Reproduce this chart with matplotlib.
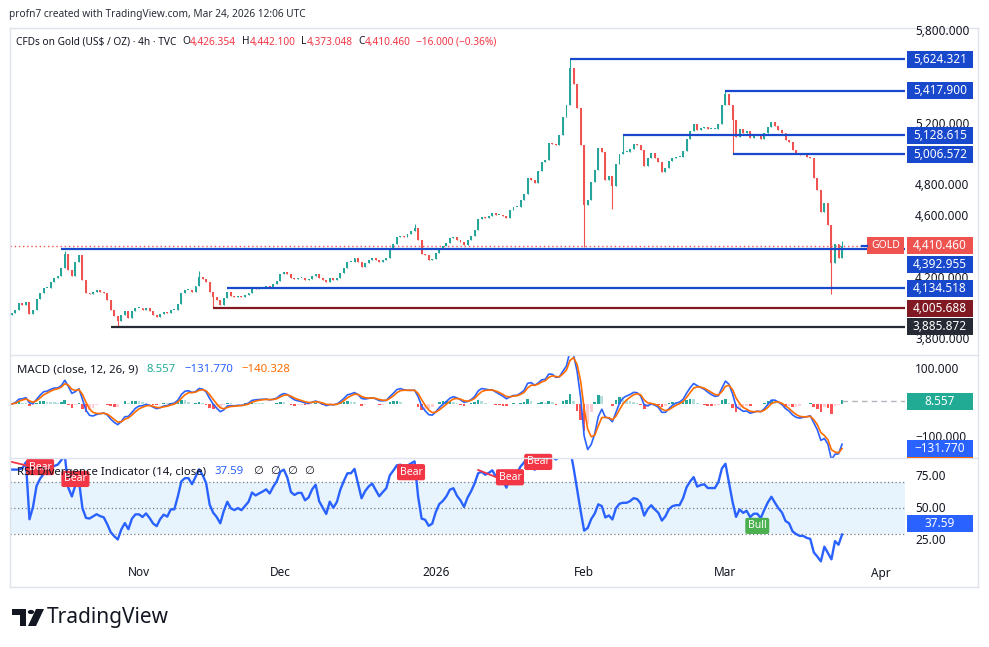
import numpy as np
import pandas as pd
import matplotlib
matplotlib.use("Agg")
import matplotlib.pyplot as plt
from matplotlib.patches import Rectangle, Circle, Polygon
from matplotlib.lines import Line2D

plt.rcParams['font.family'] = ['Noto Sans', 'DejaVu Sans']

W, H = 989, 647

# ---------------- data ----------------
closes = [
    3975, 3995, 4040, 4027, 4047, 3969, 3995, 4066, 4105, 4138,
    4138, 4177, 4202, 4215, 4267, 4358, 4254, 4215, 4306, 4352,
    4190, 4105, 4099, 4112, 4125, 4112, 4105, 4060, 3995, 3956,
    3923, 3962, 3988, 3943, 3988, 4008, 4008, 3995, 4008, 3988,
    3962, 3949, 3969, 3982, 3975, 3995, 3995, 4034, 4105, 4125,
    4125, 4112, 4151, 4209, 4196, 4177, 4112, 4079, 4060, 4030,
    4073, 4112, 4086, 4079, 4086, 4079, 4092, 4105, 4138, 4131,
    4138, 4144, 4151, 4144, 4164, 4183, 4228, 4241, 4228, 4202,
    4196, 4202, 4202, 4190, 4196, 4215, 4228, 4202, 4190, 4177,
    4202, 4190, 4202, 4235, 4267, 4306, 4306, 4332, 4306, 4274,
    4300, 4319, 4332, 4319, 4306, 4319, 4332, 4391, 4423, 4469,
    4475, 4469, 4488, 4508, 4527, 4449, 4358, 4352, 4319, 4326,
    4365, 4397, 4410, 4430, 4462, 4469, 4449, 4436, 4417, 4449,
    4475, 4514, 4586, 4599, 4592, 4605, 4625, 4612, 4612, 4605,
    4592, 4644, 4664, 4664, 4709, 4748, 4852, 4839, 4819, 4897,
    4956, 4969, 5079, 5073, 5066, 5131, 5248, 5326, 5566, 5462,
    5306, 5066, 4676, 4709, 4826, 4904, 5047, 5021, 4839, 4865,
    4800, 4943, 5008, 5021, 5021, 5040, 5073, 5066, 5034, 4930,
    4982, 5014, 4982, 4956, 4891, 4917, 4962, 4982, 4988, 4988,
    5027, 5105, 5157, 5203, 5164, 5177, 5183, 5170, 5170, 5170,
    5203, 5326, 5397, 5326, 5229, 5118, 5170, 5144, 5157, 5112,
    5131, 5131, 5105, 5144, 5183, 5216, 5190, 5164, 5144, 5099,
    5086, 5034, 5014, 5001, 5001, 4988, 4982, 4852, 4774, 4631,
    4690, 4547, 4300, 4425, 4330, 4410,
]
first_open = 3960
wick_high = {15: 4381, 53: 4245, 114: 4550, 158: 5624, 173: 5129, 202: 5418, 235: 4442}
wick_low = {30: 3886, 57: 4006, 162: 4403, 170: 4650, 204: 5007, 232: 4098, 235: 4373}

# key levels: (price, anchor bar, colour)
levels = [5624.321, 5417.900, 5128.615, 5006.572, 4392.955, 4134.518, 4005.688, 3885.872]
level_start = [158, 202, 173, 204, 14, 61, 57, 28]
level_color = ['#1848CC', '#1848CC', '#1848CC', '#1848CC', '#1848CC', '#1848CC', '#801922', '#262A35']
last_price = 4410.460

price_ticks = [3800, 4200, 4600, 4800, 5200, 5800]
macd_ticks = [100, -100]
rsi_ticks = [75, 50, 25]

month_starts = ['2025-11-01', '2025-12-01', '2026-01-01', '2026-02-01', '2026-03-01', '2026-04-01']
month_labels = ['Nov', 'Dec', '2026', 'Feb', 'Mar', 'Apr']

bear_idx = [8, 18, 113, 141, 149]
bear_val = [82, 72.7, 78, 74, 86]
bull_idx = [211]
bull_val = [36]
div_lines = [((0, 86), (6, 82)), ((132, 79.7), (137, 74.2))]

legend_macd = ['8.557', '\u2212131.770', '\u2212140.328']
macd_last = [8.557, -131.770, -140.328]
rsi_last = 37.59

# ---------------- time index (12h bars, bar-indexed like TradingView) ----------------
days = pd.bdate_range('2025-10-08', '2026-04-15')
days = days[~days.isin(pd.to_datetime(['2025-12-25', '2026-01-01']))]
bars = pd.DatetimeIndex([d + pd.Timedelta(hours=h) for d in days for h in (0, 12)])
n = len(closes)
idx = np.arange(n)

c = np.array(closes, float)
o = np.r_[first_open, c[:-1]]
hi = np.maximum(o, c)
lo = np.minimum(o, c)
for k, v in wick_high.items():
    hi[k] = max(hi[k], v)
for k, v in wick_low.items():
    lo[k] = min(lo[k], v)

s = pd.Series(c)
fast = s.ewm(span=12 / 3, adjust=False).mean()
slow = s.ewm(span=26 / 3, adjust=False).mean()
macd = (fast - slow).values
signal = pd.Series(macd).ewm(span=9 / 3, adjust=False).mean().values
hist = macd - signal
d = s.diff().fillna(0)
gain = d.clip(lower=0).ewm(alpha=1 / 9, adjust=False).mean()
loss = (-d.clip(upper=0)).ewm(alpha=1 / 9, adjust=False).mean()
rsi = (100 - 100 / (1 + gain / loss.replace(0, np.nan))).fillna(80).values

# ---------------- figure ----------------
fig = plt.figure(figsize=(W / 100, H / 100), dpi=100)
fig.patch.set_facecolor('white')

PX0, PXB = 11.8, 3.533   # pixel of bar 0, pixels per bar

def px_to_i(x):
    return (x - PX0) / PXB

XL = (px_to_i(10), px_to_i(905))

def make_ax(top_px, bot_px, ylim):
    ax = fig.add_axes([10 / W, 1 - bot_px / H, 895 / W, (bot_px - top_px) / H])
    ax.set_xlim(*XL)
    ax.set_ylim(*ylim)
    ax.axis('off')
    return ax

def px_price(y):
    return 5800 - (y - 32) * 6.494

axp = make_ax(28, 355, (px_price(355), px_price(28)))
axm = make_ax(355, 458, (-159, 144))
axr = make_ax(458, 563, (50 - (563 - 508) / 1.28, 50 + (508 - 458) / 1.28))

def fig_y(ax, v):
    b = ax.get_position()
    y0, y1 = ax.get_ylim()
    return b.y0 + b.height * (v - y0) / (y1 - y0)

dark = '#131722'
up_c, dn_c = '#26A69A', '#EF5350'

# candles
col = np.where(c >= o, up_c, dn_c)
axp.vlines(idx, lo, hi, colors=col, lw=0.8, zorder=3)
axp.bar(idx, np.maximum(np.abs(c - o), 5), bottom=np.minimum(o, c), width=0.55,
        color=col, zorder=3, linewidth=0)

# level lines
for lv, st, cl in zip(levels, level_start, level_color):
    axp.hlines(lv, st, XL[1], colors=cl, lw=1.6, zorder=4)
axp.hlines(last_price, XL[0], XL[1], colors='#EF5350', lw=1.0, linestyles=(0, (1, 2)), zorder=2)

# MACD
hcol = []
for k in range(n):
    prev = hist[k - 1] if k > 0 else 0
    if hist[k] >= 0:
        hcol.append('#26A69A' if hist[k] >= prev else '#B2DFDB')
    else:
        hcol.append('#FFCDD2' if hist[k] >= prev else '#FF5252')
axm.bar(idx, hist, width=0.75, color=hcol, linewidth=0, zorder=2)
axm.plot(idx, macd, color='#2962FF', lw=1.2, zorder=3)
axm.plot(idx, signal, color='#FF6D00', lw=1.2, zorder=4)
axm.hlines(macd_last[0], n - 1, XL[1], colors='#B2B5BE', lw=1.0, linestyles=(0, (4, 3)))

# RSI
axr.axhspan(30, 70, color='#2196F3', alpha=0.10, lw=0, zorder=1)
for lv in (70, 50, 30):
    axr.axhline(lv, color='#787B86', lw=0.9, linestyle=(0, (1, 2)), zorder=2)
axr.plot(idx, rsi, color='#2962FF', lw=1.7, zorder=3)
for (a, b) in div_lines:
    axr.plot([a[0], b[0]], [a[1], b[1]], color='#F23645', lw=1.3, zorder=4)
for i_, v_ in zip(bear_idx, bear_val):
    axr.text(i_, v_, 'Bear', color='white', fontsize=7.5, ha='center', va='center', zorder=6,
             bbox=dict(boxstyle='round,pad=0.25,rounding_size=0.2', fc='#F23645', ec='none'))
for i_, v_ in zip(bull_idx, bull_val):
    axr.text(i_, v_, 'Bull', color='white', fontsize=7.5, ha='center', va='center', zorder=6,
             bbox=dict(boxstyle='round,pad=0.25,rounding_size=0.2', fc='#4CAF50', ec='none'))

# ---------------- right axis labels ----------------
AFS = 8.5
AX_X = 915 / W
for t in price_ticks:
    fig.text(AX_X, fig_y(axp, t), f'{t:,.3f}', fontsize=AFS, color=dark, va='center', zorder=3)
for t in macd_ticks:
    fig.text(AX_X, fig_y(axm, t), f'{t:,.3f}'.replace('-', '\u2212'), fontsize=AFS, color=dark,
             va='center', zorder=3)
for t in rsi_ticks:
    fig.text(AX_X, fig_y(axr, t), f'{t:.2f}', fontsize=AFS, color=dark, va='center', zorder=3)

def box(yf, text, fc, x0=907, w=66, dy_px=0, fs=AFS, z=5):
    yf = yf - dy_px / H
    r = Rectangle((x0 / W, yf - 8.5 / H), w / W, 17 / H, transform=fig.transFigure,
                  fc=fc, ec='none', zorder=z)
    fig.add_artist(r)
    if text:
        fig.text((x0 + w / 2) / W, yf, text, fontsize=fs, color='white', va='center',
                 ha='center', zorder=z + 0.5)

for lv, cl in zip(levels, level_color):
    dy = 16 if lv == 4392.955 else 0
    box(fig_y(axp, lv), f'{lv:,.3f}', cl, dy_px=dy)
box(fig_y(axp, last_price), f'{last_price:,.3f}', '#EF5350')
box(fig_y(axp, last_price), 'GOLD', '#EF5350', x0=867, w=37, fs=7.5)
fig.add_artist(Line2D([862 / W, 867 / W], [fig_y(axp, last_price)] * 2, transform=fig.transFigure,
                      color='#1848CC', lw=1.6, zorder=5))

# MACD signal label: hidden behind the MACD label, only its lower edge shows above the pane border
yb = 1 - 458 / H
yo = fig_y(axm, macd_last[2])
fig.add_artist(Rectangle((907 / W, yb), 66 / W, (yo + 8.5 / H) - yb, transform=fig.transFigure,
                         fc='#FF6D00', ec='none', zorder=5))
box(fig_y(axm, macd_last[1]), legend_macd[1], '#2962FF', z=6)
box(fig_y(axm, macd_last[0]), legend_macd[0], '#22AB94')
box(fig_y(axr, rsi_last), f'{rsi_last:.2f}', '#2962FF')

# ---------------- time axis ----------------
for ms, lab in zip(month_starts, month_labels):
    k = int(np.searchsorted(bars, pd.Timestamp(ms)))
    x_fig = (PX0 + k * PXB) / W
    fig.text(x_fig, 1 - 573 / H, lab, fontsize=8.5, color=dark, ha='center', va='center',
             fontweight='bold' if lab == '2026' else 'normal')

# ---------------- frame ----------------
fc_ = '#E0E3EB'
def fline(x0, y0, x1, y1):
    fig.add_artist(Line2D([x0 / W, x1 / W], [1 - y0 / H, 1 - y1 / H], transform=fig.transFigure,
                          color=fc_, lw=1.0, zorder=1))
fline(10, 28, 978, 28)
fline(10, 587, 978, 587)
fline(10, 28, 10, 587)
fline(978, 28, 978, 587)
fline(10, 355, 978, 355)
fline(10, 458, 978, 458)

# ---------------- texts ----------------
fig.text(9 / W, 1 - 14 / H, 'profn7 created with TradingView.com, Mar 24, 2026 12:06 UTC',
         fontsize=7.3, color='#2A2E39', va='center')

def seq(x_px, y_px, pieces, fs):
    prev = fig.text(x_px / W, 1 - y_px / H, pieces[0][0], color=pieces[0][1], fontsize=fs,
                    va='center', zorder=7)
    for txt, cl, gap in pieces[1:]:
        prev = axp.annotate(txt, xy=(1, 0.5), xycoords=prev, xytext=(gap, 0),
                            textcoords='offset points', va='center', ha='left', color=cl,
                            fontsize=fs, annotation_clip=False, zorder=7)

red = '#F23645'
seq(16, 42, [('CFDs on Gold (US$ / OZ) \u00b7 4h \u00b7 TVC', dark, 0),
             ('O', dark, 4), ('4,426.354', red, 0.2),
             ('H', dark, 4), ('4,442.100', red, 0.2),
             ('L', dark, 4), ('4,373.048', red, 0.2),
             ('C', dark, 4), ('4,410.460', red, 0.2),
             ('\u221216.000 (\u22120.36%)', red, 4)], 7.3)
seq(17, 370, [('MACD (close, 12, 26, 9)', dark, 0),
              (legend_macd[0], '#22AB94', 6), (legend_macd[1], '#2962FF', 6),
              (legend_macd[2], '#FF6D00', 6)], 8.2)
seq(17, 472, [('RSI Divergence Indicator (14, close)', dark, 0),
              (f'{rsi_last:.2f}', '#2962FF', 6),
              ('\u2205', dark, 7), ('\u2205', dark, 5), ('\u2205', dark, 5), ('\u2205', dark, 5)], 8.2)

# ---------------- TradingView logo ----------------
def P(x, y):
    return (x / W, 1 - y / H)
k_ = '#131722'
fig.add_artist(Polygon([P(12, 609), P(26, 609), P(26, 626), P(20, 626), P(20, 615), P(12, 615)],
                       closed=True, transform=fig.transFigure, fc=k_, ec='none'))
fig.add_artist(Circle(P(31, 612), 3.2 / W, transform=fig.transFigure, fc=k_, ec='none'))
fig.add_artist(Polygon([P(36, 609), P(44, 609), P(36, 626), P(28, 626)], closed=True,
                       transform=fig.transFigure, fc=k_, ec='none'))
fig.text(47 / W, 1 - 617 / H, 'TradingView', fontsize=15, fontweight='bold', color=k_, va='center')

fig.savefig('out.png', dpi=100, facecolor='white')
